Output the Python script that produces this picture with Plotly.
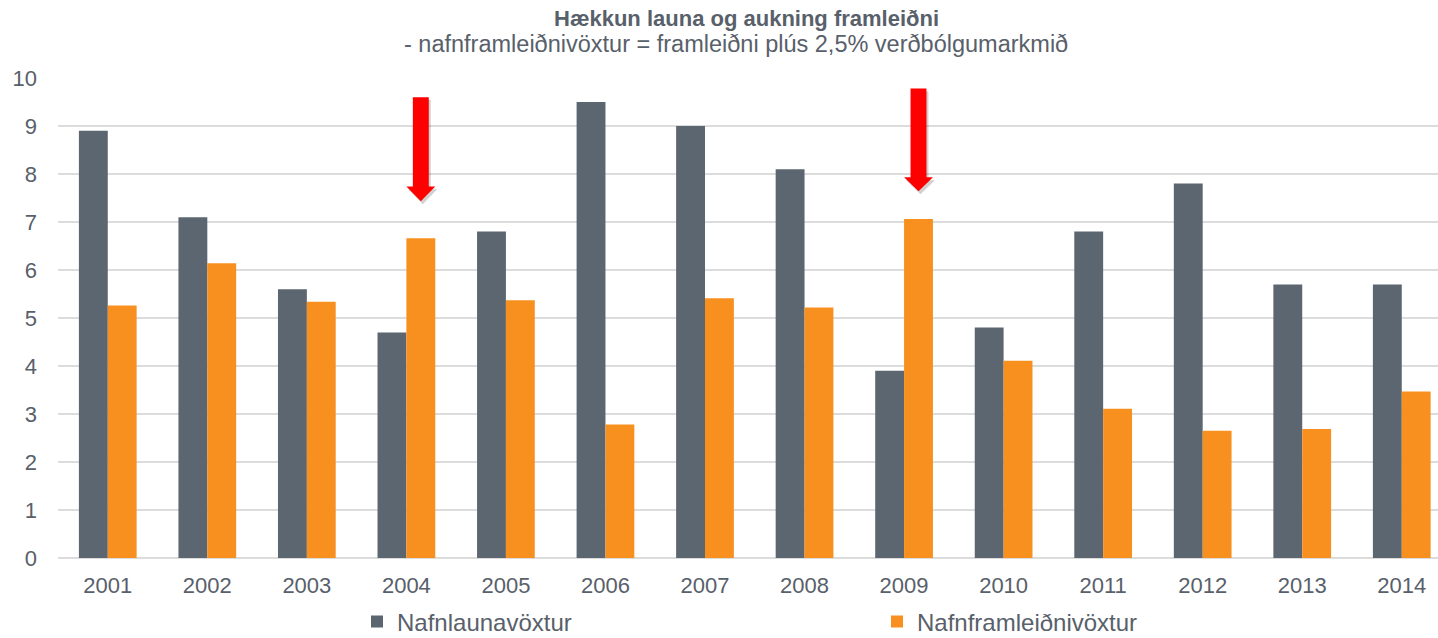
import plotly.graph_objects as go

years = ["2001", "2002", "2003", "2004", "2005", "2006", "2007",
         "2008", "2009", "2010", "2011", "2012", "2013", "2014"]
nafnlaun = [8.9, 7.1, 5.6, 4.7, 6.8, 9.5, 9.0, 8.1, 3.9, 4.8, 6.8, 7.8, 5.7, 5.7]
nafnframl = [5.26, 6.14, 5.34, 6.66, 5.37, 2.78, 5.41, 5.22, 7.06, 4.11, 3.11, 2.65, 2.69, 3.47]

title_text = "Hækkun launa og aukning framleiðni"
subtitle_text = "- nafnframleiðnivöxtur = framleiðni plús 2,5% verðbólgumarkmið"
series_names = ["Nafnlaunavöxtur", "Nafnframleiðnivöxtur"]

# highlighted years (arrows above the orange bar): (year, top, head start, tip)
arrow_years = ["2004", "2009"]
arrow_top = [9.60, 9.78]
arrow_head = [7.74, 7.93]
arrow_tip = [7.43, 7.64]

GRAY = "#5B6670"
ORANGE = "#F7901E"
TXT = "#58606A"
FONT = "Liberation Sans, Arial, sans-serif"

W, H = 1438, 638
ML, MR, MT, MB = 58, 0, 78, 80

fig = go.Figure()
fig.add_trace(go.Bar(x=years, y=nafnlaun, name=series_names[0], marker_color=GRAY,
                     marker_line_width=0))
fig.add_trace(go.Bar(x=years, y=nafnframl, name=series_names[1], marker_color=ORANGE,
                     marker_line_width=0))

BARGAP = 0.42
bar_w = (1 - BARGAP) / 2
shapes = []
for yr, top, head, tip in zip(arrow_years, arrow_top, arrow_head, arrow_tip):
    cx = years.index(yr) + bar_w / 2
    hs = 0.08   # half shaft width
    hh = 0.145  # half head width
    def path(dx=0.0, dy=0.0):
        pts = [(cx - hs, top), (cx + hs, top), (cx + hs, head), (cx + hh, head),
               (cx, tip), (cx - hh, head), (cx - hs, head)]
        return "M " + " L ".join(f"{x + dx},{y + dy}" for x, y in pts) + " Z"
    shapes.append(dict(type="path", xref="x", yref="y", path=path(0.02, -0.06),
                       fillcolor="rgba(0,0,0,0.18)", line_width=0, layer="above"))
    shapes.append(dict(type="path", xref="x", yref="y", path=path(),
                       fillcolor="#FF0000", line_width=0, layer="above"))

pw = W - ML - MR
ph = H - MT - MB

def px_to_paper(sx, sy):
    return (sx - ML) / pw, 1 + (MT - sy) / ph

tx, ty = px_to_paper(746, 18)
sx_, sy_ = px_to_paper(736, 44.5)

fig.update_layout(
    width=W, height=H,
    margin=dict(l=ML, r=MR, t=MT, b=MB, pad=0, autoexpand=False),
    paper_bgcolor="white", plot_bgcolor="white",
    barmode="group", bargap=BARGAP, bargroupgap=0,
    font=dict(family=FONT, color=TXT, size=22),
    shapes=shapes,
    showlegend=True,
    legend=dict(orientation="h", x=(371 - 14 - ML) / pw, xanchor="left",
                y=-(622 - (H - MB)) / ph, yanchor="middle",
                font=dict(size=24, color=TXT), entrywidth=475,
                entrywidthmode="pixels", bgcolor="rgba(0,0,0,0)",
                tracegroupgap=0, itemsizing="constant"),
    annotations=[
        dict(text="<b>" + title_text + "</b>", x=tx, y=ty, xref="paper", yref="paper",
             xanchor="center", yanchor="middle", showarrow=False,
             font=dict(size=22, color=TXT, family=FONT)),
        dict(text=subtitle_text, x=sx_, y=sy_, xref="paper", yref="paper",
             xanchor="center", yanchor="middle", showarrow=False,
             font=dict(size=23.5, color=TXT, family=FONT)),
    ],
)

fig.update_xaxes(type="category", range=[-0.5, 13.364], showgrid=False, showline=False,
                 ticks="", tickfont=dict(size=22, color=TXT), ticklabelstandoff=12,
                 zeroline=False)
fig.update_yaxes(range=[0, 10], dtick=1, showgrid=True, gridcolor="#DCDCDC", gridwidth=1.5,
                 zeroline=True, zerolinecolor="#DCDCDC", zerolinewidth=1.5,
                 showline=False, ticks="", tickfont=dict(size=22, color=TXT),
                 ticklabelstandoff=20)

fig.write_html("out.html", config={"displayModeBar": False},
               post_script="document.body.style.margin='0';document.body.style.overflow='hidden';")
